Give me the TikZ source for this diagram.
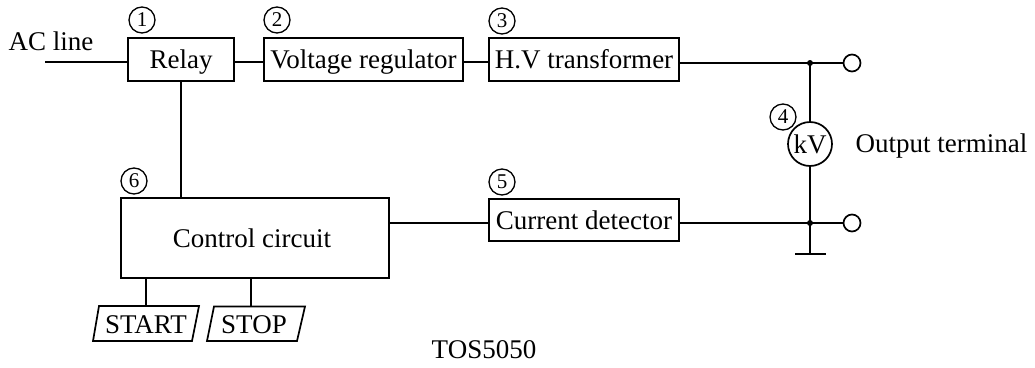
\documentclass[tikz,border=0pt]{standalone}
\usepackage{fontspec}
\setmainfont{Liberation Serif}
\tikzset{
  x=1pt,y=-1pt,
  wire/.style={line width=1.7pt},
  blockbox/.style={draw,line width=1.7pt,inner sep=0pt,font=\fontsize{27}{27}\selectfont,text height=20pt,text depth=2pt,anchor=center},
  num/.style={draw,circle,line width=1.3pt,minimum size=26pt,inner sep=0pt,font=\fontsize{21}{21}\selectfont},
  term/.style={draw,circle,line width=1.7pt,minimum size=17pt,inner sep=0pt},
  dotn/.style={fill,circle,minimum size=6pt,inner sep=0pt},
  lab/.style={inner sep=0pt,font=\fontsize{27}{27}\selectfont,text height=20pt,text depth=2pt},
}
\begin{document}
\begin{tikzpicture}
\useasboundingbox (0,0) rectangle (1035,367);
\node[blockbox,minimum width=106pt,minimum height=43pt] (relay) at (181,59.5) {Relay};
\node[blockbox,minimum width=199pt,minimum height=43pt] (vreg) at (363.5,59.5) {Voltage regulator};
\node[blockbox,minimum width=190pt,minimum height=43pt] (hv) at (584,59.5) {H.V transformer};
\node[blockbox,minimum width=268pt,minimum height=80pt] (ctrl) at (255,238) {\hspace{-6pt}Control circuit};
\node[blockbox,minimum width=190pt,minimum height=42pt] (cur) at (584,220) {Current detector};
\node[num] (n1) at (142,20) {1};
\node[num] (n2) at (277,20) {2};
\node[num] (n3) at (502,21) {3};
\node[num] (n4) at (783,117) {4};
\node[num] (n5) at (502,182) {5};
\node[num] (n6) at (134,181) {6};
\node[lab] (ac) at (51,41) {AC line};
\coordinate (acend) at (45,62);
\node[draw,circle,line width=1.7pt,minimum size=44pt,inner sep=0pt,font=\fontsize{27}{27}\selectfont,text height=20pt,text depth=2pt] (kv) at (810,144) {kV};
\node[dotn] (j1) at (810,63) {};
\node[dotn] (j2) at (810,223) {};
\node[term] (t1) at (852,63) {};
\node[term] (t2) at (852,223) {};
\coordinate (gnd) at (810,254);
\coordinate (gl) at (795,254);
\coordinate (gr) at (826,254);
\node[lab] (out) at (941.5,143) {Output terminal};
\node[lab] (tos) at (484,349) {TOS5050};
% push-buttons
\coordinate (sa) at (99,306);
\coordinate (sb) at (199,306);
\coordinate (sc) at (192,341);
\coordinate (sd) at (93,341);
\coordinate (sw) at (146,306);
\coordinate (pa) at (214,306.5);
\coordinate (pb) at (305,306.5);
\coordinate (pc) at (297,341);
\coordinate (pd) at (207,341);
\coordinate (pw) at (251,306.5);
\draw[wire,line join=miter] (sa) -- (sb) -- (sc) -- (sd) -- cycle;
\draw[wire,line join=miter] (pa) -- (pb) -- (pc) -- (pd) -- cycle;
\node[lab] (start) at (146,324) {START};
\node[lab] (stop) at (254,324) {STOP};
% wires
\draw[wire] (acend) -- (relay.west |- acend);
\draw[wire] (relay.east |- acend) -- (vreg.west |- acend);
\draw[wire] (vreg.east |- acend) -- (hv.west |- acend);
\draw[wire] (hv.east |- j1) -- (j1.center);
\draw[wire] (j1.center) -- (t1.west);
\draw[wire] (relay.south) -- (ctrl.north -| relay.south);
\draw[wire] (ctrl.east |- j2) -- (cur.west |- j2);
\draw[wire] (cur.east |- j2) -- (j2.center);
\draw[wire] (j2.center) -- (t2.west);
\draw[wire] (j1.center) -- (kv.north);
\draw[wire] (kv.south) -- (j2.center);
\draw[wire] (j2.center) -- (gnd);
\draw[wire] (gl) -- (gr);
\draw[wire] (ctrl.south -| sw) -- (sw);
\draw[wire] (ctrl.south -| pw) -- (pw);
\end{tikzpicture}
\end{document}
